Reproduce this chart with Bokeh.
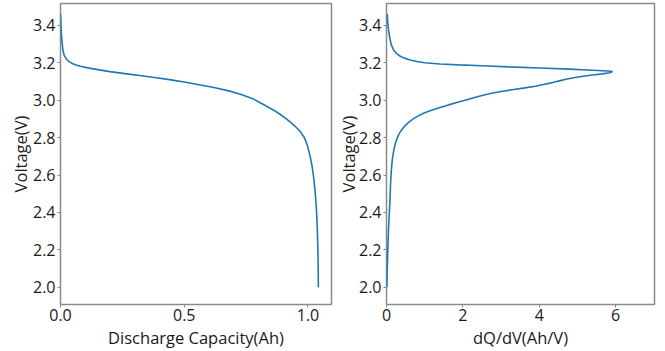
from bokeh.plotting import figure
from bokeh.layouts import row
from bokeh.models import Range1d, FixedTicker
from bokeh.embed import file_html
from bokeh.resources import INLINE

# ---- data ----
capacity_ah = [0.0, 0.002, 0.004, 0.007, 0.010, 0.015, 0.023, 0.033, 0.045, 0.06,
               0.08, 0.11, 0.145, 0.2, 0.26, 0.32, 0.38, 0.44, 0.5, 0.56,
               0.62, 0.68, 0.73, 0.78, 0.82, 0.86, 0.887, 0.91, 0.93, 0.947,
               0.96, 0.972, 0.983, 0.99, 0.997, 1.005, 1.012, 1.018, 1.024, 1.029,
               1.033, 1.036, 1.038, 1.040, 1.041, 1.042]
voltage_cap = [3.46, 3.40, 3.35, 3.30, 3.265, 3.24, 3.222, 3.208, 3.198, 3.19,
               3.182, 3.173, 3.165, 3.153, 3.142, 3.132, 3.121, 3.110, 3.097, 3.083,
               3.068, 3.050, 3.031, 3.006, 2.977, 2.948, 2.925, 2.903, 2.882, 2.862,
               2.845, 2.827, 2.805, 2.785, 2.76, 2.72, 2.68, 2.635, 2.575, 2.51,
               2.44, 2.37, 2.30, 2.20, 2.12, 2.0]

voltage_dqdv = [3.46, 3.42, 3.38, 3.34, 3.30, 3.27, 3.25, 3.235, 3.225, 3.215,
                3.207, 3.200, 3.194, 3.189, 3.184, 3.178, 3.172, 3.166, 3.160, 3.156,
                3.153, 3.147, 3.141, 3.135, 3.128, 3.12, 3.112, 3.106, 3.102, 3.099,
                3.095, 3.09, 3.083, 3.075, 3.066, 3.057, 3.047, 3.037, 3.027, 3.016,
                3.004, 2.99, 2.975, 2.96, 2.945, 2.93, 2.915, 2.90, 2.88, 2.86,
                2.84, 2.82, 2.79, 2.76, 2.72, 2.68, 2.62, 2.55, 2.46, 2.38,
                2.30, 2.20, 2.10, 2.0]
dqdv = [0.02, 0.03, 0.05, 0.08, 0.12, 0.18, 0.26, 0.36, 0.47, 0.62,
        0.8, 1.0, 1.4, 1.9, 2.5, 3.2, 4.0, 4.8, 5.4, 5.8,
        5.92, 5.85, 5.65, 5.4, 5.15, 4.9, 4.7, 4.58, 4.5, 4.42,
        4.36, 4.25, 4.08, 3.9, 3.62, 3.33, 3.0, 2.75, 2.53, 2.33,
        2.13, 1.885, 1.625, 1.38, 1.16, 0.97, 0.82, 0.70, 0.57, 0.47,
        0.39, 0.33, 0.265, 0.22, 0.18, 0.15, 0.125, 0.105, 0.09, 0.07,
        0.05, 0.035, 0.02, 0.01]

y_ticks = [2.0, 2.2, 2.4, 2.6, 2.8, 3.0, 3.2, 3.4]
y_tick_labels = ["2.0", "2.2", "2.4", "2.6", "2.8", "3.0", "3.2", "3.4"]
x1_ticks = [0.0, 0.5, 1.0]
x1_tick_labels = ["0.0", "0.5", "1.0"]
x2_ticks = [0, 2, 4, 6]
x2_tick_labels = ["0", "2", "4", "6"]

FONT = "Open Sans"
FRAME = "#8a8a8a"
LINE = "#1f77b4"


def style(p, xt, xl, xlabel, ylabel_standoff):
    p.xgrid.visible = False
    p.ygrid.visible = False
    p.outline_line_color = FRAME
    p.outline_line_width = 1.5
    p.outline_line_alpha = 1.0
    p.background_fill_color = "white"
    p.border_fill_color = "white"
    p.xaxis.ticker = FixedTicker(ticks=xt)
    p.xaxis.major_label_overrides = {t: s for t, s in zip(xt, xl)}
    p.yaxis.ticker = FixedTicker(ticks=y_ticks)
    p.yaxis.major_label_overrides = {t: s for t, s in zip(y_ticks, y_tick_labels)}
    p.xaxis.axis_label = xlabel
    p.yaxis.axis_label = "Voltage(V)"
    for ax in (p.xaxis, p.yaxis):
        ax.axis_line_color = None
        ax.major_tick_line_color = FRAME
        ax.major_tick_out = 3
        ax.major_tick_in = 0
        ax.minor_tick_line_color = None
        ax.major_label_text_font = FONT
        ax.major_label_text_font_size = "16px"
        ax.major_label_text_color = "#1a1a1a"
        ax.axis_label_text_font = FONT
        ax.axis_label_text_font_size = "16.5px"
        ax.axis_label_text_font_style = "normal"
        ax.axis_label_text_color = "#1a1a1a"
    p.xaxis.major_label_standoff = 1
    p.xaxis.axis_label_standoff = 2
    p.yaxis.major_label_standoff = 2
    p.yaxis.axis_label_standoff = ylabel_standoff


p1 = figure(width=333, height=351, output_backend="svg", toolbar_location=None,
            x_range=Range1d(0, 1.095), y_range=Range1d(1.908, 3.517),
            min_border_left=60, min_border_right=2, min_border_top=3, min_border_bottom=45)
p1.line(capacity_ah, voltage_cap, line_color=LINE, line_width=1.6)
style(p1, x1_ticks, x1_tick_labels, "Discharge Capacity(Ah)", -2)

p2 = figure(width=332, height=351, output_backend="svg", toolbar_location=None,
            x_range=Range1d(0, 7.02), y_range=Range1d(1.908, 3.517),
            min_border_left=51, min_border_right=11, min_border_top=3, min_border_bottom=45)
p2.line(dqdv, voltage_dqdv, line_color=LINE, line_width=1.6)
style(p2, x2_ticks, x2_tick_labels, "dQ/dV(Ah/V)", -4)

layout = row(p1, p2, spacing=0)
open("out.html", "w").write(file_html(layout, INLINE))
